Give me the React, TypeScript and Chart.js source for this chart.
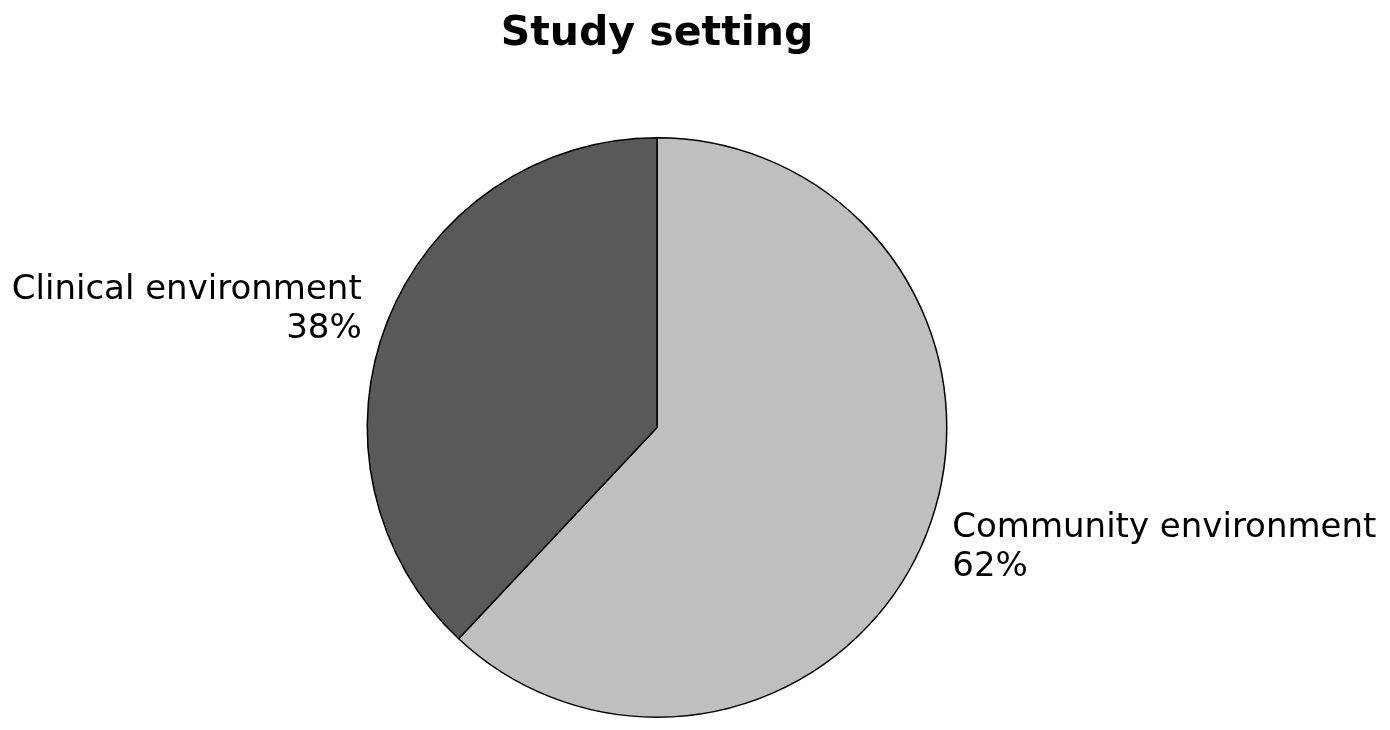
import React, { useEffect, useRef } from "react";
import { Chart, registerables } from "chart.js";

Chart.register(...registerables);

const categories = ["Community environment", "Clinical environment"];
const values = [62, 38];
const colors = ["#bfbfbf", "#595959"];
const titleText = "Study setting";

const FONT = "'DejaVu Sans', sans-serif";

const labelPlugin = {
  id: "pieLabels",
  afterDraw(chart: any) {
    const ctx = chart.ctx;
    const meta = chart.getDatasetMeta(0);
    const total = values.reduce((a, b) => a + b, 0);
    ctx.save();
    ctx.fillStyle = "#000";
    ctx.font = `34px ${FONT}`;
    ctx.textBaseline = "middle";
    meta.data.forEach((arc: any, i: number) => {
      const p = arc.getProps(["x", "y", "startAngle", "endAngle", "outerRadius"], true);
      const mid = (p.startAngle + p.endAngle) / 2;
      const lx = p.x + Math.cos(mid) * p.outerRadius * 1.096;
      const s = Math.sin(mid);
      const ly = p.y + s * p.outerRadius * 1.1 + (s > 0 ? 3 : 0);
      ctx.textAlign = Math.cos(mid) >= 0 ? "left" : "right";
      const pct = Math.round((values[i] / total) * 100) + "%";
      const lh = 39;
      ctx.fillText(categories[i], lx, ly - lh / 2);
      ctx.fillText(pct, lx, ly + lh / 2);
    });
    ctx.font = `bold 41px ${FONT}`;
    ctx.textAlign = "center";
    ctx.textBaseline = "alphabetic";
    ctx.fillText(titleText, 657, 45);
    ctx.restore();
  },
};

export default function App() {
  const ref = useRef<HTMLCanvasElement | null>(null);
  useEffect(() => {
    document.body.style.margin = "0";
    const canvas = ref.current!;
    const chart = new Chart(canvas, {
      type: "pie",
      data: {
        labels: categories,
        datasets: [
          {
            data: values,
            backgroundColor: colors,
            borderColor: "#000",
            borderWidth: 1.5,
            borderAlign: "center",
          },
        ],
      },
      options: {
        responsive: false,
        animation: false,
        rotation: 0,
        layout: { padding: { left: 366, right: 442, top: 137, bottom: 12 } },
        plugins: {
          legend: { display: false },
          title: { display: false },
          tooltip: { enabled: false },
        },
      },
      plugins: [labelPlugin],
    });
    return () => chart.destroy();
  }, []);
  return (
    <div style={{ width: 1390, height: 730, background: "#fff" }}>
      <canvas ref={ref} width={1390} height={730} style={{ width: 1390, height: 730 }} />
    </div>
  );
}
